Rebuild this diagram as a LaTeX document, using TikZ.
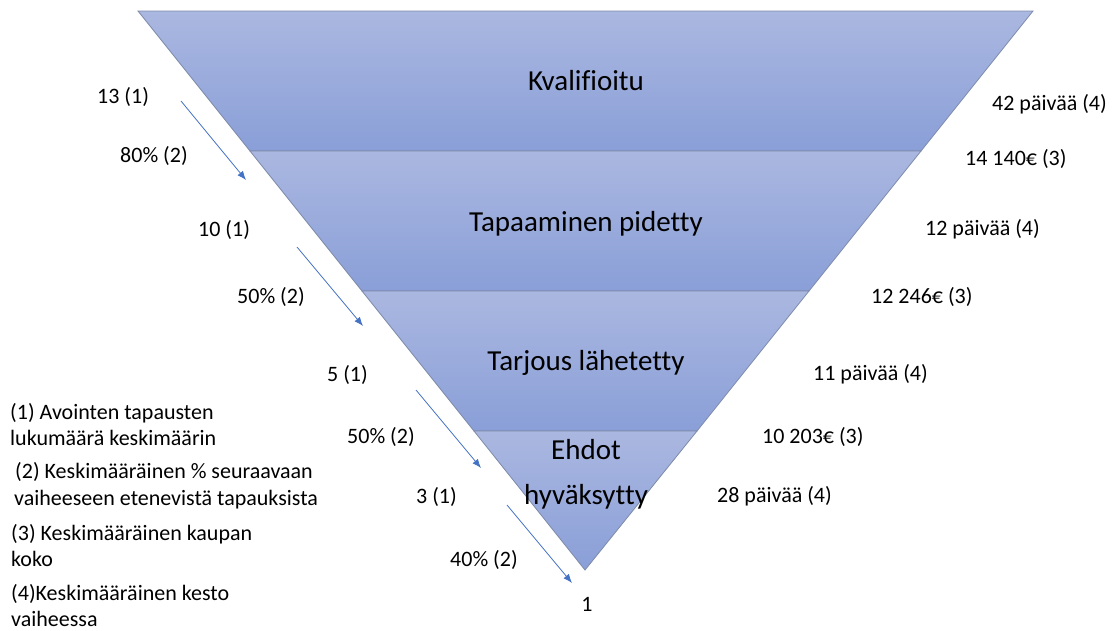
\documentclass[tikz,border=0pt]{standalone}
\usepackage{fontspec}
\setmainfont[Ligatures={NoCommon}]{Carlito}
\usetikzlibrary{arrows.meta}
\definecolor{bandtop}{HTML}{AAB7E0}
\definecolor{bandbot}{HTML}{8A9FD8}
\definecolor{bandedge}{HTML}{7D8AA8}
\definecolor{arrowblue}{HTML}{4472C4}
\tikzset{
  band/.style={top color=bandtop, bottom color=bandbot, draw=bandedge, line width=0.8pt},
  stagelabel/.style={font=\fontsize{29}{34}\selectfont, inner sep=0pt, anchor=base},
  small/.style={font=\fontsize{22}{26}\selectfont, inner sep=0pt},
  flowarrow/.style={draw=arrowblue, line width=0.8pt, -{Latex[length=9pt,width=7pt]}},
}
\begin{document}
\begin{tikzpicture}[x=1pt,y=-1pt]
\useasboundingbox (0,0) rectangle (1116,630);
% funnel edge coordinates
\coordinate (L0) at (138,11);  \coordinate (R0) at (1033,11);
\coordinate (L1) at (250,151); \coordinate (R1) at (921,151);
\coordinate (L2) at (362,291); \coordinate (R2) at (809,291);
\coordinate (L3) at (474,431); \coordinate (R3) at (697,431);
\coordinate (apex) at (585,570);
% bands
\shade[band] (L0) -- (R0) -- (R1) -- (L1) -- cycle;
\shade[band] (L1) -- (R1) -- (R2) -- (L2) -- cycle;
\shade[band] (L2) -- (R2) -- (R3) -- (L3) -- cycle;
\shade[band] (L3) -- (R3) -- (apex) -- cycle;
% stage labels
\node[stagelabel] (s1) at (586,90) {Kvalifioitu};
\node[stagelabel] (s2) at (586,231) {Tapaaminen pidetty};
\node[stagelabel] (s3) at (586,370) {Tarjous lähetetty};
\node[stagelabel] (s4a) at (586,459) {Ehdot};
\node[stagelabel] (s4b) at (586,504) {hyväksytty};
% left numbers
\node[small,anchor=base west] (n1) at (97,103) {13 (1)};
\node[small,anchor=base west] (p1) at (120,162) {80\% (2)};
\node[small,anchor=base west] (n2) at (198,236) {10 (1)};
\node[small,anchor=base west] (p2) at (237,303) {50\% (2)};
\node[small,anchor=base west] (n3) at (327,381) {5 (1)};
\node[small,anchor=base west] (p3) at (347,443) {50\% (2)};
\node[small,anchor=base west] (n4) at (416,503) {3 (1)};
\node[small,anchor=base west] (p4) at (450,566) {40\% (2)};
\node[small,anchor=base] (n5) at (587,611) {1};
% right numbers
\node[small,anchor=base west] (d1) at (992,110) {42 päivää (4)};
\node[small,anchor=base west] (e1) at (965,165) {14 140€ (3)};
\node[small,anchor=base west] (d2) at (925,235) {12 päivää (4)};
\node[small,anchor=base west] (e2) at (871,303) {12 246€ (3)};
\node[small,anchor=base west] (d3) at (813,380) {11 päivää (4)};
\node[small,anchor=base west] (e3) at (762,443) {10 203€ (3)};
\node[small,anchor=base west] (d4) at (717,502) {28 päivää (4)};
% arrows
\coordinate (a1s) at (181,101); \coordinate (a1e) at (246,180);
\coordinate (a2s) at (297,247); \coordinate (a2e) at (363,326);
\coordinate (a3s) at (416,390); \coordinate (a3e) at (481,468);
\coordinate (a4s) at (507,505); \coordinate (a4e) at (572,583);
\draw[flowarrow] (a1s) -- (a1e);
\draw[flowarrow] (a2s) -- (a2e);
\draw[flowarrow] (a3s) -- (a3e);
\draw[flowarrow] (a4s) -- (a4e);
% legend
\node[small,anchor=base west] (g1a) at (10,419) {(1) Avointen tapausten};
\node[small,anchor=base west] (g1b) at (10,445) {lukumäärä keskimäärin};
\node[small,anchor=base west] (g2a) at (15,478) {(2) Keskimääräinen \% seuraavaan};
\node[small,anchor=base west] (g2b) at (14,505) {vaiheeseen etenevistä tapauksista};
\node[small,anchor=base west] (g3a) at (11,540) {(3) Keskimääräinen kaupan};
\node[small,anchor=base west] (g3b) at (11,566) {koko};
\node[small,anchor=base west] (g4a) at (11,600) {(4)Keskimääräinen kesto};
\node[small,anchor=base west] (g4b) at (11,626) {vaiheessa};
\end{tikzpicture}
\end{document}
